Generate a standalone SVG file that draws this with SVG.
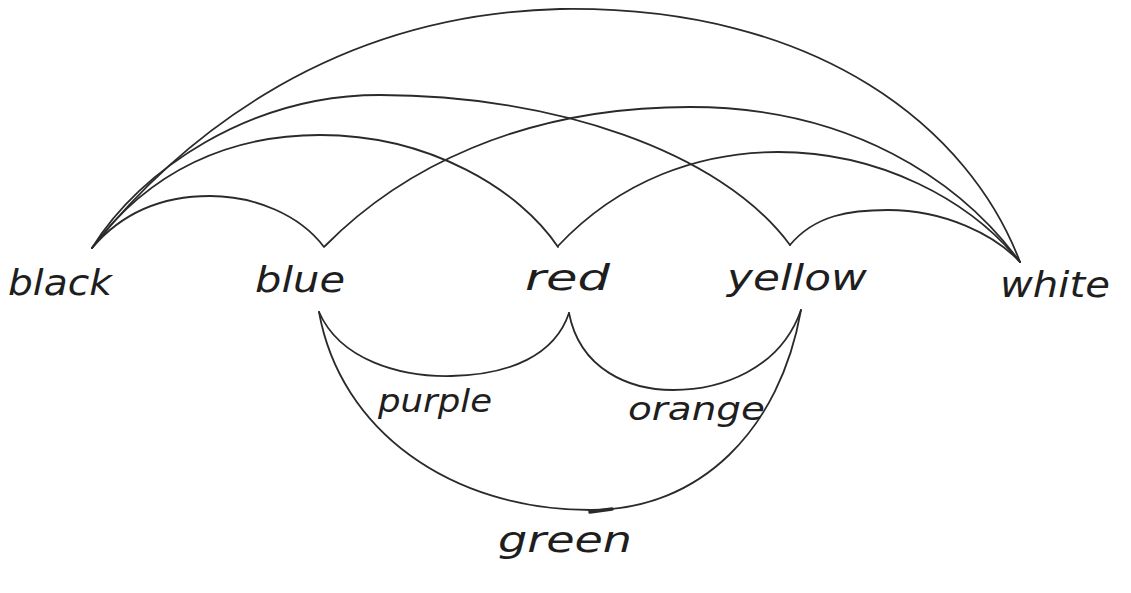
<svg xmlns="http://www.w3.org/2000/svg" width="1131" height="593" viewBox="0 0 1131 593">
<style>
.bg{fill:#ffffff}
.c{fill:none;stroke:#2a2a2a;stroke-width:1.8;stroke-linecap:round;stroke-linejoin:round}
.t{font-family:"DejaVu Sans","Liberation Sans",sans-serif;font-style:italic;font-size:36px;fill:#1e1e1e}
.s{font-size:32px}
</style>
<rect class="bg" x="0" y="0" width="1131" height="593"/>
<g id="connectors">
<path class="c" d="M92,248 C170,150 320,15 560,9 C820,5 970,130 1020,262"/>
<path class="c" d="M92,248 C140,170 250,95 380,95 C550,95 720,150 790,245"/>
<path class="c" d="M92,248 C150,170 230,135 320,135 C430,135 520,190 558,247"/>
<path class="c" d="M92,248 C120,215 160,196 210,196 C255,196 300,215 324,247"/>
<path class="c" d="M325,246 C400,170 520,107 690,107 C850,107 960,180 1020,262"/>
<path class="c" d="M558,246 C620,180 700,152 778,152 C880,152 970,200 1020,262"/>
<path class="c" d="M790,245 C815,215 850,210 888,210 C945,210 995,235 1020,262"/>
<path class="c" d="M319,312 C340,360 400,377 451,376 C510,375 555,355 569,313"/>
<path class="c" d="M569,313 C580,370 630,390 673,390 C720,390 780,370 801,310"/>
<path class="c" d="M319,312 C340,430 450,510 591,510 C700,510 780,430 801,310"/>
<path class="c" style="stroke-width:3.5" d="M590,512 L612,509"/>
</g>
<g id="black"><text class="t" x="8" y="295" textLength="104" lengthAdjust="spacingAndGlyphs">black</text></g>
<g id="blue"><text class="t" x="255" y="292" textLength="90" lengthAdjust="spacingAndGlyphs">blue</text></g>
<g id="red"><text class="t" x="525" y="290" textLength="85" lengthAdjust="spacingAndGlyphs">red</text></g>
<g id="yellow"><text class="t" x="727" y="290" textLength="140" lengthAdjust="spacingAndGlyphs">yellow</text></g>
<g id="white"><text class="t" x="1000" y="297" textLength="110" lengthAdjust="spacingAndGlyphs">white</text></g>
<g id="purple"><text class="t s" x="378" y="412" textLength="114" lengthAdjust="spacingAndGlyphs">purple</text></g>
<g id="orange"><text class="t s" x="628" y="420" textLength="137" lengthAdjust="spacingAndGlyphs">orange</text></g>
<g id="green"><text class="t" x="498" y="552" textLength="134" lengthAdjust="spacingAndGlyphs">green</text></g>
</svg>
